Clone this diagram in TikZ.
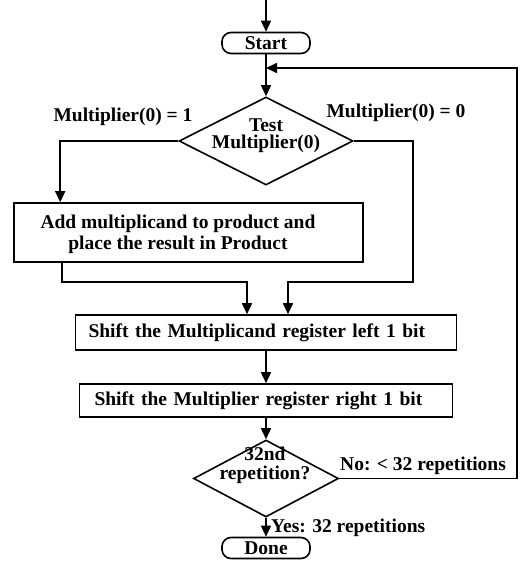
\documentclass[tikz,border=0pt]{standalone}
\usepackage{fontspec}
\setmainfont{Liberation Serif}
\usetikzlibrary{arrows.meta,shapes.geometric}
\begin{document}
\begin{tikzpicture}[x=1pt,y=-1pt,
  every node/.style={font=\bfseries\fontsize{19.5}{21}\selectfont, inner sep=0pt},
  line/.style={line width=1.6pt},
  arr/.style={line, -{Triangle[length=11pt,width=10pt]}},
  term/.style={draw, line width=1.6pt, rounded corners=9pt, minimum width=88pt, minimum height=21pt},
  box/.style={draw, line width=1.6pt},
  dec/.style={draw, diamond, line width=1.6pt},
  lbl/.style={align=center},
]
\useasboundingbox (0,0) rectangle (520,567);

% terminals
\node[term] (start) at (266,43) {Start};
\node[term] (done) at (266,548) {Done};

% first test
\node[dec, minimum width=174pt, minimum height=88pt] (test) at (266,141) {};
\node[lbl, font=\bfseries\fontsize{19.5}{17}\selectfont] (testtxt) at (266,135.5) {Test\\Multiplier(0)};

% add step
\node[box, minimum width=349pt, minimum height=59pt] (add) at (188.5,232.5) {};
\node[lbl] (addtxt) at (178,234) {Add multiplicand to product and\\place the result in Product};

% shift steps
\node[box, minimum width=381pt, minimum height=35pt, text width=355pt, align=left] (sh1) at (266,332.5) {Shift the Multiplicand register left 1 bit};
\node[box, minimum width=373pt, minimum height=33pt, text width=343pt, align=left] (sh2) at (266,400.5) {Shift the Multiplier register right 1 bit};

% repetition test
\node[dec, minimum width=145pt, minimum height=77pt] (rep) at (266,478.5) {};
\node[lbl, font=\bfseries\fontsize{19.5}{19}\selectfont] (reptxt) at (265,465) {32nd\\repetition?};

% branch labels
\node (m1) at (123,117) {Multiplier(0) = 1};
\node (m0) at (396,113) {Multiplier(0) = 0};
\node (no) at (423,466) {No: < 32 repetitions};
\node[anchor=west] (yes) at (271,528) {Yes: 32 repetitions};

% routing points
\coordinate (entry) at (266,0);
\coordinate (loop) at (517,68);
\coordinate (rj) at (413,282);
\coordinate (lj) at (247,282);

% connectors
\draw[arr] (entry) -- (start);
\draw[arr] (start) -- (test);
\draw[arr] (rep.east) -| (loop) -- (start.south |- loop);
\draw[arr] (test.west) -| ([xshift=47pt]add.north west);
\draw[arr] (test.east) -| (rj) -| ([xshift=22pt]sh1.north);
\draw[arr] ([xshift=49pt]add.south west) |- (lj) -- (lj |- sh1.north);
\draw[arr] (sh1) -- (sh2);
\draw[arr] (sh2) -- (rep);
\draw[arr] (rep) -- (done);
\end{tikzpicture}
\end{document}
